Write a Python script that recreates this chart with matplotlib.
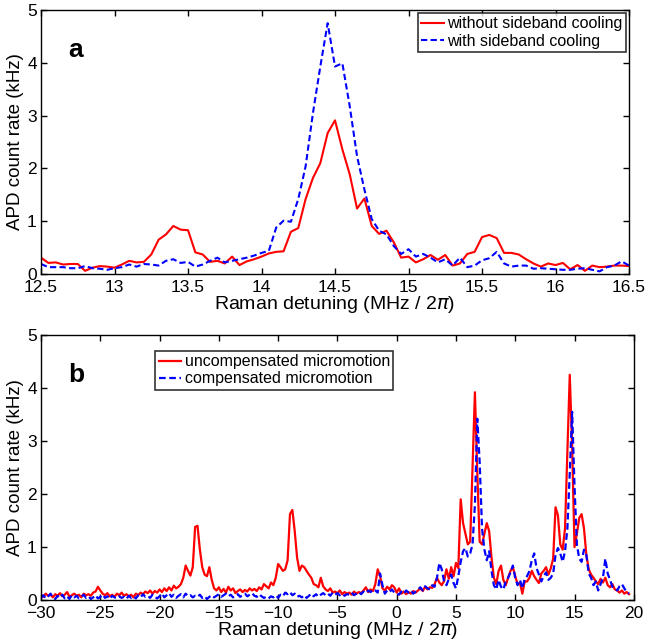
import numpy as np
import matplotlib
matplotlib.use('Agg')
import matplotlib.pyplot as plt

C_RED, C_BLUE, C_INK = '#ff0000', '#0000ff', '#000000'

plt.rcParams.update({
    'font.family': ['Liberation Sans', 'DejaVu Sans'],
    'font.size': 11,
    'axes.linewidth': 1.0,
    'xtick.direction': 'in',
    'ytick.direction': 'in',
    'xtick.top': True,
    'ytick.right': True,
    'xtick.major.size': 4,
    'ytick.major.size': 4,
    'xtick.major.width': 1.0,
    'ytick.major.width': 1.0,
    'xtick.major.pad': 4.5,
    'ytick.major.pad': 3,
    'xtick.labelsize': 12.5,
    'ytick.labelsize': 12.5,
})

# ── panel a: sideband cooling scan (12.5 - 16.5 MHz, 0.05 MHz steps) ─────
det_a = np.round(np.arange(12.5, 16.5001, 0.05), 2)
no_cool = [0.31, 0.21, 0.22, 0.18, 0.19, 0.19, 0.06, 0.12, 0.15, 0.14,
           0.12, 0.18, 0.25, 0.22, 0.23, 0.37, 0.65, 0.75, 0.91, 0.84,
           0.83, 0.41, 0.37, 0.23, 0.25, 0.20, 0.33, 0.17, 0.24, 0.28,
           0.33, 0.39, 0.42, 0.43, 0.80, 0.87, 1.42, 1.82, 2.10, 2.67,
           2.91, 2.36, 1.89, 1.24, 1.43, 0.91, 0.76, 0.82, 0.60, 0.31,
           0.33, 0.22, 0.28, 0.36, 0.27, 0.36, 0.16, 0.20, 0.38, 0.42,
           0.70, 0.74, 0.68, 0.40, 0.40, 0.37, 0.28, 0.20, 0.14, 0.20,
           0.17, 0.21, 0.09, 0.17, 0.06, 0.16, 0.13, 0.14, 0.16, 0.16,
           0.15]
with_cool = [0.19, 0.13, 0.13, 0.13, 0.11, 0.11, 0.15, 0.11, 0.10, 0.08,
             0.11, 0.13, 0.18, 0.14, 0.19, 0.18, 0.16, 0.25, 0.28, 0.21,
             0.23, 0.14, 0.18, 0.25, 0.31, 0.22, 0.25, 0.28, 0.31, 0.35,
             0.40, 0.44, 0.88, 1.01, 0.99, 1.42, 2.04, 3.05, 3.93, 4.75,
             3.93, 3.99, 3.18, 2.23, 1.60, 1.04, 0.82, 0.75, 0.53, 0.38,
             0.47, 0.33, 0.38, 0.31, 0.22, 0.28, 0.16, 0.31, 0.13, 0.16,
             0.26, 0.30, 0.42, 0.20, 0.14, 0.16, 0.16, 0.10, 0.11, 0.10,
             0.09, 0.08, 0.08, 0.10, 0.11, 0.08, 0.05, 0.13, 0.16, 0.24,
             0.16]

# ── panel b: micromotion scan (-30 - 19.6 MHz, 0.2 MHz steps) ────────────
det_b = np.round(np.arange(-30.0, 19.601, 0.2), 1)
uncomp = [
    0.10, 0.06, 0.12, 0.08, 0.10,  0.05, 0.11, 0.08, 0.13, 0.07,
    0.10, 0.15, 0.06, 0.09, 0.12,  0.08, 0.10, 0.05, 0.12, 0.09,
    0.11, 0.08, 0.14, 0.16, 0.25,  0.18, 0.12, 0.09, 0.13, 0.07,
    0.10, 0.06, 0.12, 0.09, 0.14,  0.08, 0.11, 0.07, 0.10, 0.05,
    0.12, 0.09, 0.14, 0.11, 0.16,  0.13, 0.18, 0.12, 0.17, 0.14,
    0.20, 0.15, 0.22, 0.17, 0.24,  0.18, 0.27, 0.22, 0.25, 0.30,
    0.42, 0.65, 0.55, 0.46, 0.62,  1.38, 1.40, 0.95, 0.62, 0.48,
    0.45, 0.62, 0.38, 0.22, 0.18,  0.24, 0.15, 0.21, 0.14, 0.25,
    0.18, 0.22, 0.13, 0.17, 0.20,  0.15, 0.19, 0.16, 0.22, 0.18,
    0.21, 0.17, 0.24, 0.20, 0.30,  0.26, 0.22, 0.33, 0.28, 0.42,
    0.68, 0.62, 0.55, 0.58, 0.75,  1.62, 1.70, 1.30, 0.80, 0.55,
    0.65, 0.62, 0.55, 0.48, 0.42,  0.30, 0.28, 0.24, 0.42, 0.26,
    0.20, 0.17, 0.22, 0.14, 0.16,  0.13, 0.18, 0.11, 0.15, 0.12,
    0.14, 0.10, 0.16, 0.12, 0.15,  0.13, 0.18, 0.24, 0.15, 0.20,
    0.17, 0.30, 0.58, 0.45, 0.22,  0.18, 0.25, 0.20, 0.28, 0.24,
    0.14, 0.22, 0.12, 0.16, 0.11,  0.15, 0.12, 0.17, 0.14, 0.18,
    0.22, 0.17, 0.25, 0.20, 0.24,  0.23, 0.30, 0.42, 0.33, 0.28,
    0.36, 0.58, 0.40, 0.62, 0.45,  0.70, 0.60, 1.90, 1.45, 1.25,
    1.05, 1.10, 2.50, 3.92, 2.40,  1.10, 1.05, 1.25, 1.45, 1.30,
    0.80, 0.42, 0.30, 0.55, 0.65,  0.38, 0.28, 0.42, 0.55, 0.62,
    0.45, 0.30, 0.32, 0.12, 0.35,  0.35, 0.42, 0.55, 0.45, 0.38,
    0.32, 0.50, 0.55, 0.62, 0.48,  0.60, 0.78, 1.75, 1.60, 1.05,
    0.95, 1.35, 2.80, 4.25, 2.90,  1.00, 1.25, 1.55, 1.62, 1.35,
    0.85, 0.58, 0.48, 0.42, 0.35,  0.30, 0.40, 0.33, 0.42, 0.28,
    0.24, 0.30, 0.20, 0.18, 0.14,  0.18, 0.12, 0.15, 0.11]
comp = [
    0.04, 0.09, 0.03, 0.07, 0.12,  0.05, 0.02, 0.08, 0.04, 0.10,
    0.03, 0.07, 0.02, 0.09, 0.05,  0.08, 0.03, 0.06, 0.10, 0.04,
    0.07, 0.02, 0.05, 0.09, 0.03,  0.06, 0.10, 0.04, 0.07, 0.02,
    0.08, 0.05, 0.03, 0.07, 0.04,  0.06, 0.02, 0.08, 0.04, 0.07,
    0.03, 0.09, 0.05, 0.11, 0.06,  0.08, 0.04, 0.10, 0.06, 0.03,
    0.07, 0.12, 0.05, 0.09, 0.13,  0.06, 0.10, 0.04, 0.08, 0.11,
    0.05, 0.12, 0.07, 0.09, 0.05,  0.08, 0.06, 0.10, 0.04, 0.07,
    0.02, 0.06, 0.09, 0.05, 0.08,  0.11, 0.06, 0.09, 0.12, 0.07,
    0.10, 0.05, 0.08, 0.11, 0.06,  0.09, 0.12, 0.07, 0.10, 0.13,
    0.08, 0.06, 0.11, 0.07, 0.04,  0.06, 0.03, 0.07, 0.05, 0.09,
    0.04, 0.10, 0.07, 0.14, 0.11,  0.15, 0.09, 0.12, 0.06, 0.08,
    0.05, 0.09, 0.04, 0.08, 0.12,  0.07, 0.11, 0.06, 0.10, 0.13,
    0.09, 0.12, 0.08, 0.14, 0.10,  0.13, 0.09, 0.12, 0.08, 0.11,
    0.10, 0.14, 0.09, 0.12, 0.15,  0.11, 0.16, 0.13, 0.18, 0.15,
    0.20, 0.18, 0.14, 0.50, 0.28,  0.12, 0.18, 0.15, 0.20, 0.14,
    0.13, 0.10, 0.16, 0.12, 0.18,  0.14, 0.18, 0.12, 0.16, 0.20,
    0.24, 0.18, 0.26, 0.22, 0.20,  0.28, 0.25, 0.42, 0.70, 0.58,
    0.35, 0.28, 0.40, 0.48, 0.32,  0.22, 0.45, 0.72, 0.92, 0.98,
    0.82, 0.88, 1.05, 1.80, 3.42,  2.60, 1.35, 0.95, 0.75, 0.92,
    0.55, 0.28, 0.20, 0.38, 0.25,  0.20, 0.35, 0.42, 0.52, 0.65,
    0.42, 0.28, 0.38, 0.22, 0.40,  0.45, 0.55, 0.75, 0.88, 0.60,
    0.48, 0.35, 0.45, 0.52, 0.38,  0.42, 0.50, 0.85, 0.98, 0.88,
    0.72, 0.92, 1.35, 2.40, 3.55,  2.15, 1.05, 0.78, 0.72, 0.95,
    0.85, 0.50, 0.42, 0.28, 0.35,  0.18, 0.30, 0.42, 0.78, 0.50,
    0.38, 0.25, 0.22, 0.18, 0.26,  0.30, 0.22, 0.15, 0.12]

xticks_a = [12.5, 13, 13.5, 14, 14.5, 15, 15.5, 16, 16.5]
xtick_labels_a = ['12.5', '13', '13.5', '14', '14.5', '15', '15.5', '16', '16.5']
xticks_b = [-30, -25, -20, -15, -10, -5, 0, 5, 10, 15, 20]
xtick_labels_b = ['\u221230', '\u221225', '\u221220', '\u221215', '\u221210', '\u22125',
                  '0', '5', '10', '15', '20']
yticks = [0, 1, 2, 3, 4, 5]

XLABEL = r'Raman detuning (MHz / 2$\pi$)'
YLABEL = 'APD count rate (kHz)'

fig = plt.figure(figsize=(6.45, 6.44), dpi=100)
ax_a = fig.add_axes([0.0636, 0.5745, 0.9116, 0.410])
ax_b = fig.add_axes([0.0636, 0.0683, 0.9190, 0.4115])

leg_kw = dict(frameon=True, fancybox=False, edgecolor=C_INK, fontsize=11.5,
              handlelength=1.4, handletextpad=0.25, borderpad=0.2,
              labelspacing=0.15, borderaxespad=0.0)

# panel a
ax_a.plot(det_a, no_cool, color=C_RED, lw=1.5, label='without sideband cooling')
ax_a.plot(det_a, with_cool, color=C_BLUE, lw=1.5, ls=(0, (3, 1.6)),
          label='with sideband cooling')
ax_a.set_xlim(12.5, 16.5)
ax_a.set_ylim(0, 5)
ax_a.set_xticks(xticks_a)
ax_a.set_xticklabels(xtick_labels_a)
ax_a.set_yticks(yticks)
ax_a.set_xlabel(XLABEL, fontsize=14, labelpad=-1)
ax_a.set_ylabel(YLABEL, fontsize=13.5, labelpad=2)
ax_a.text(0.058, 0.85, 'a', transform=ax_a.transAxes, fontsize=19,
          fontweight='bold', ha='center', va='center')
lg = ax_a.legend(loc='upper right', bbox_to_anchor=(0.995, 0.988), **leg_kw)
lg.get_frame().set_linewidth(1.2)

# panel b
ax_b.plot(det_b, uncomp, color=C_RED, lw=1.6, label='uncompensated micromotion')
ax_b.plot(det_b, comp, color=C_BLUE, lw=1.6, ls=(0, (3, 1.6)),
          label='compensated micromotion')
ax_b.set_xlim(-30, 20)
ax_b.set_ylim(0, 5)
ax_b.set_xticks(xticks_b)
ax_b.set_xticklabels(xtick_labels_b)
ax_b.set_yticks(yticks)
ax_b.set_xlabel(XLABEL, fontsize=14, labelpad=-1)
ax_b.set_ylabel(YLABEL, fontsize=13.5, labelpad=2)
ax_b.text(0.059, 0.85, 'b', transform=ax_b.transAxes, fontsize=19,
          fontweight='bold', ha='center', va='center')
lg = ax_b.legend(loc='upper left', bbox_to_anchor=(0.193, 0.94), **leg_kw)
lg.get_frame().set_linewidth(1.2)

fig.savefig('out.png', dpi=100)
